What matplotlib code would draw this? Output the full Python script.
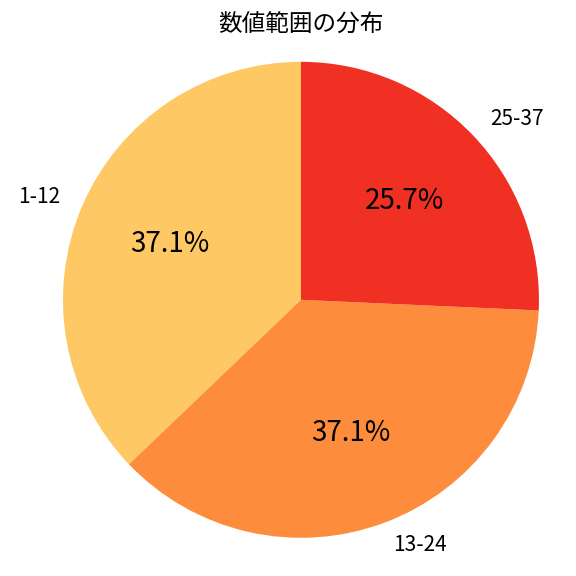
import matplotlib
matplotlib.use("Agg")
import matplotlib.pyplot as plt

plt.rcParams['font.family'] = ['Noto Sans CJK JP', 'DejaVu Sans']

labels = ['1-12', '13-24', '25-37']
counts = [13, 13, 9]
colors = ['#fec864', '#fd8d3c', '#f03023']
title = '数値範囲の分布'

fig = plt.figure(figsize=(5.76, 5.76), dpi=100)
ax = fig.add_axes([0.068, 0.025, 0.909, 0.909])
wedges, texts, autotexts = ax.pie(counts, labels=labels, colors=colors, startangle=90,
                                  autopct='%1.1f%%', textprops={'fontsize': 15})
for t in autotexts:
    t.set_fontsize(20)
ax.axis('equal')
fig.text(0.5228, 1 - 25 / 576, title, fontsize=17, ha='center', va='center')
fig.savefig('out.png', dpi=100)
